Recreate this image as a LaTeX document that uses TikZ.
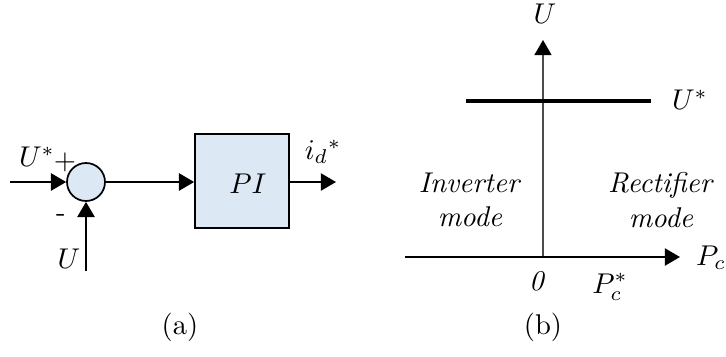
\documentclass[tikz,border=0pt]{standalone}
\usetikzlibrary{arrows.meta}
\definecolor{boxfill}{HTML}{DCE8F3}
\begin{document}
\begin{tikzpicture}[x=0.35pt,y=-0.35pt,
  tip/.tip={Triangle[length=5.3pt,width=6pt]},
  arr/.style={-{tip}, line width=0.7pt},
  lbl/.style={inner sep=0pt},
  blk/.style={draw, line width=0.6pt, fill=boxfill}]
\useasboundingbox (0,0) rectangle (726,356);
% (a) block diagram
\coordinate (in) at (10,182);
\node[blk, circle, minimum size=38*0.35pt, inner sep=0pt] (sum) at (86,182) {};
\node[blk, minimum width=94*0.35pt, minimum height=94*0.35pt, inner sep=0pt] (pi) at (242,181) {};
\node[lbl] at (248,184) {$PI$};
\coordinate (out) at (336,182);
\coordinate (ufb) at (86,271);
\draw[arr] (in) -- (sum.west);
\draw[arr] (ufb) -- (sum.south);
\draw[arr] (sum.east) -- (pi.west |- sum.east);
\draw[arr] (pi.east |- out) -- (out);
\node[lbl] (ustar) at (37,157) {$U^{*}$};
\node[lbl] (plus) at (65,162) {$+$};
\node[lbl] (minus) at (61,218) {-};
\node[lbl] (ulbl) at (69,259) {$U$};
\node[lbl] (id) at (323,152) {$i_{d}{}^{*}$};
\node[lbl] (capa) at (180,327) {(a)};
% (b) characteristic
\coordinate (vb) at (543,257);
\coordinate (vt) at (543,40);
\coordinate (hl) at (405,257);
\coordinate (hr) at (680,257);
\draw[-{Triangle[length=5.3pt,width=6pt,color=black,fill=black]}, line width=0.45pt, black!70] (vb) -- (vt);
\draw[arr] (hl) -- (hr);
\coordinate (ul) at (466,101);
\coordinate (ur) at (651,101);
\draw[line width=1.4pt] (ul) -- (ur);
\node[lbl] (ulab) at (545,14) {$U$};
\node[lbl] (ustarb) at (690,100) {$U^{*}$};
\node[lbl] (pc) at (711,258) {$P_c$};
\node[lbl] (zero) at (537,281) {\textit{0}};
\node[lbl] (pcs) at (610,287) {$P_c^{*}$};
\node[lbl, align=center] (inv) at (470,200) {\textit{Inverter}\\\textit{mode}};
\node[lbl, align=center] (rec) at (661,200) {\textit{Rectifier}\\\textit{mode}};
\node[lbl] (capb) at (543,327) {(b)};
\end{tikzpicture}
\end{document}
